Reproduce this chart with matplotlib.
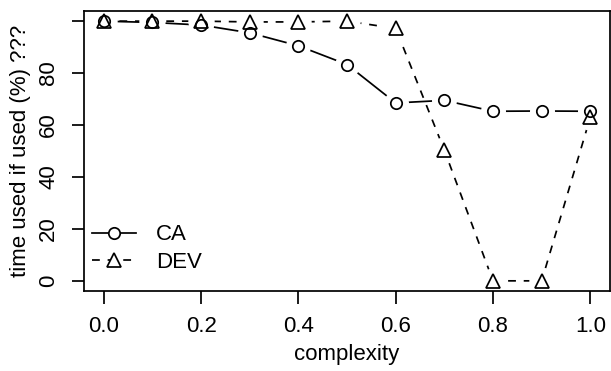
import matplotlib
matplotlib.use("Agg")
import matplotlib.pyplot as plt
from matplotlib.lines import Line2D

plt.rcParams['font.family'] = ['Liberation Sans', 'DejaVu Sans']

complexity = [0.0, 0.1, 0.2, 0.3, 0.4, 0.5, 0.6, 0.7, 0.8, 0.9, 1.0]
ca = [100, 99.5, 98.5, 95.5, 90.5, 83.3, 68.5, 69.5, 65.3, 65.4, 65.3]
dev = [100, 100, 100, 99.7, 99.7, 100, 97.2, 50.3, 0, 0, 63]
xticks = [0.0, 0.2, 0.4, 0.6, 0.8, 1.0]
yticks = [0, 20, 40, 60, 80, 100]
ytick_labels = ['0', '20', '40', '60', '80', '']

fig = plt.figure(figsize=(6.11, 3.71), dpi=100)
ax = fig.add_axes([0.138, 0.215, 0.860, 0.756])

lw = 1.25
ms = 8.2
fs = 16
# lines first, then white halos to make the R type="b" gaps, then markers
ax.plot(complexity, ca, color='black', lw=lw, zorder=1)
ax.plot(complexity, dev, color='black', lw=lw, dashes=(4.5, 4.5), zorder=1)
ax.plot(complexity, ca, ls='none', marker='o', ms=18, mfc='white', mec='none', zorder=1.5)
ax.plot(complexity, dev, ls='none', marker='o', ms=19, mfc='white', mec='none', zorder=1.5)
ax.plot(complexity, ca, ls='none', marker='o', ms=ms, mfc='none', mec='black', mew=lw, zorder=3)
ax.plot(complexity, dev, ls='none', marker='^', ms=ms + 1.3, mfc='none', mec='black', mew=lw, zorder=3)

ax.set_xlim(-0.04, 1.04)
ax.set_ylim(-4, 104)
ax.set_xticks(xticks)
ax.set_xticklabels(['%.1f' % v for v in xticks])
ax.set_yticks(yticks)
ax.set_yticklabels(ytick_labels, rotation=90, va='center')
ax.tick_params(axis='both', length=9, width=lw, labelsize=fs, pad=9)
for s in ax.spines.values():
    s.set_linewidth(lw)

ax.set_xlabel('complexity', fontsize=fs, labelpad=5)
ax.set_ylabel('time used if used (%) ???', fontsize=fs, labelpad=5)

handles = [
    Line2D([], [], color='black', lw=lw, marker='o', ms=ms, mfc='white', mew=lw),
    Line2D([], [], color='black', lw=lw, dashes=(4.5, 4.5), marker='^', ms=ms + 1.3, mfc='white', mew=lw),
]
ax.legend(handles, ['CA', 'DEV'], loc='lower left', frameon=False, fontsize=fs,
          handlelength=2.0, handletextpad=0.9, labelspacing=0.3,
          borderpad=0, borderaxespad=0, bbox_to_anchor=(0.014, 0.065))

fig.savefig('out.png', dpi=100)
